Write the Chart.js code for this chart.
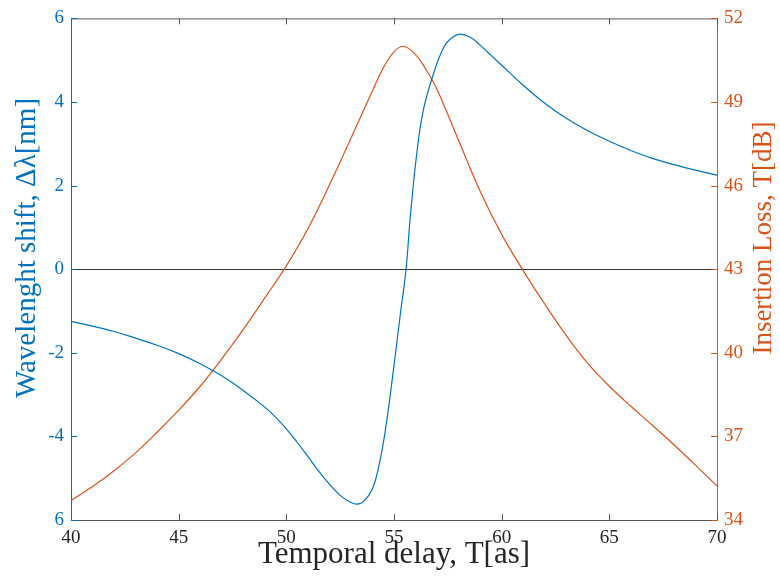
<!DOCTYPE html>
<html>
<head>
<meta charset="utf-8">
<script src="https://cdn.jsdelivr.net/npm/chart.js@4/dist/chart.umd.min.js"></script>
<style>
  html, body { margin: 0; padding: 0; background: #fff; }
  #wrap { width: 780px; height: 584px; }
</style>
</head>
<body>
<div id="wrap"><canvas id="delay-chart" width="780" height="584"></canvas></div>
<script>
// wavelength shift (left axis)
const shiftDelay = [40, 41, 42, 43, 44, 45, 46, 47, 48, 49, 49.5, 50, 50.5, 51, 51.5, 52, 52.5, 53, 53.3, 53.6, 54, 54.3, 54.6, 55, 55.3, 55.56, 55.75, 56.06, 56.36, 56.83, 57.29, 57.6, 58, 58.5, 59, 59.5, 60, 61, 62, 63, 64, 65, 66, 67, 68, 69, 70]
const shiftNm = [-1.25, -1.36, -1.49, -1.65, -1.82, -2.02, -2.26, -2.55, -2.9, -3.3, -3.54, -3.82, -4.14, -4.48, -4.83, -5.14, -5.41, -5.58, -5.62, -5.55, -5.25, -4.7, -3.85, -2.3, -1.05, 0, 1.22, 2.78, 3.8, 4.67, 5.29, 5.5, 5.62, 5.56, 5.36, 5.12, 4.88, 4.4, 3.97, 3.61, 3.31, 3.06, 2.84, 2.65, 2.5, 2.37, 2.25]

// insertion loss (right axis)
const lossDelay = [40, 41, 42, 43, 44, 45, 46, 47, 48, 49, 50, 51, 52, 53, 54, 54.5, 55, 55.45, 56, 56.5, 57, 58, 59, 60, 61, 62, 63, 64, 65, 66, 67, 68, 69, 70]
const lossDb = [34.7, 35.2, 35.77, 36.41, 37.15, 37.94, 38.8, 39.78, 40.84, 41.97, 43.12, 44.45, 46.02, 47.7, 49.4, 50.22, 50.8, 51.0, 50.7, 50.15, 49.45, 47.62, 45.8, 44.25, 42.95, 41.75, 40.62, 39.62, 38.8, 38.08, 37.4, 36.7, 35.97, 35.22]

// tick labels as printed (bottom label of the left axis reads "6")
const delayTicks = [40, 45, 50, 55, 60, 65, 70]
const shiftTickLabels = ['6', '-4', '-2', '0', '2', '4', '6']
const lossTicks = [34, 37, 40, 43, 46, 49, 52]

const xTitle = 'Temporal delay, T[as]'
const leftTitle = 'Wavelenght shift, \u0394\u03bb[nm]'
const rightTitle = 'Insertion Loss, T[dB]'

const blue = '#0072BD'
const orange = '#D95319'
const dark = '#262626'
const serif = "'Liberation Serif', 'DejaVu Serif', serif"

// matlab style: inward ticks, box, axis titles
const matlabAxes = {
  id: 'matlabAxes',
  afterDraw (chart) {
    const { ctx, chartArea: a, scales } = chart
    const len = 6
    ctx.save()
    ctx.lineWidth = 1
    ctx.strokeStyle = '#555'
    ctx.beginPath()
    ctx.moveTo(a.left, a.top + 0.5)
    ctx.lineTo(a.right, a.top + 0.5)
    ctx.stroke()
    ctx.beginPath()
    for (const v of delayTicks) {
      const px = Math.round(scales.x.getPixelForValue(v)) + 0.5
      ctx.moveTo(px, a.bottom); ctx.lineTo(px, a.bottom - len)
      ctx.moveTo(px, a.top); ctx.lineTo(px, a.top + len)
    }
    ctx.stroke()
    ctx.strokeStyle = blue
    ctx.beginPath()
    for (let v = -6; v <= 6; v += 2) {
      const py = Math.round(scales.yShift.getPixelForValue(v)) + 0.5
      ctx.moveTo(a.left, py); ctx.lineTo(a.left + len, py)
    }
    ctx.stroke()
    ctx.strokeStyle = orange
    ctx.beginPath()
    for (const v of lossTicks) {
      const py = Math.round(scales.yLoss.getPixelForValue(v)) + 0.5
      ctx.moveTo(a.right, py); ctx.lineTo(a.right - len, py)
    }
    ctx.stroke()

    ctx.textAlign = 'center'
    ctx.textBaseline = 'middle'
    ctx.font = '31px ' + serif
    ctx.fillStyle = dark
    ctx.fillText(xTitle, (a.left + a.right) / 2, 555)
    ctx.font = '29px ' + serif
    ctx.fillStyle = blue
    ctx.translate(27, 248)
    ctx.rotate(-Math.PI / 2)
    ctx.fillText(leftTitle, 0, 0)
    ctx.rotate(Math.PI / 2)
    ctx.translate(-27, -248)
    ctx.font = '27px ' + serif
    ctx.fillStyle = orange
    ctx.translate(764, 238)
    ctx.rotate(-Math.PI / 2)
    ctx.fillText(rightTitle, 0, 0)
    ctx.restore()
  }
}

const points = (xs, ys) => xs.map((x, i) => ({ x: x, y: ys[i] }))

new Chart(document.getElementById('delay-chart').getContext('2d'), {
  type: 'line',
  data: {
    datasets: [
      {
        label: 'Wavelength shift',
        data: points(shiftDelay, shiftNm),
        yAxisID: 'yShift',
        borderColor: blue,
        borderWidth: 1.2,
        pointRadius: 0,
        tension: 0.4
      },
      {
        label: 'Insertion loss',
        data: points(lossDelay, lossDb),
        yAxisID: 'yLoss',
        borderColor: orange,
        borderWidth: 1.2,
        pointRadius: 0,
        tension: 0.4
      }
    ]
  },
  options: {
    responsive: false,
    animation: false,
    layout: { padding: { top: 10, left: 0, right: 0, bottom: 0 } },
    plugins: { legend: { display: false }, tooltip: { enabled: false } },
    scales: {
      x: {
        type: 'linear',
        min: 40,
        max: 70,
        afterBuildTicks: (scale) => { scale.ticks = delayTicks.map(v => ({ value: v })) },
        afterFit: (scale) => { scale.height = 64 },
        grid: { display: false, drawTicks: false },
        border: { color: '#555', width: 1 },
        ticks: { color: dark, padding: 7, maxRotation: 0, font: { family: serif, size: 19 } }
      },
      yShift: {
        type: 'linear',
        position: 'left',
        min: -6,
        max: 6,
        ticks: {
          stepSize: 2,
          color: blue,
          padding: 7,
          font: { family: serif, size: 19 },
          callback: (v, i) => shiftTickLabels[i]
        },
        afterFit: (scale) => { scale.width = 71 },
        grid: {
          drawTicks: false,
          color: (c) => c.tick && c.tick.value === 0 ? '#333' : 'rgba(0,0,0,0)'
        },
        border: { color: blue, width: 1 }
      },
      yLoss: {
        type: 'linear',
        position: 'right',
        min: 34,
        max: 52,
        afterBuildTicks: (scale) => { scale.ticks = lossTicks.map(v => ({ value: v })) },
        afterFit: (scale) => { scale.width = 63 },
        ticks: { color: orange, padding: 7, font: { family: serif, size: 19 } },
        grid: { display: false, drawTicks: false },
        border: { color: orange, width: 1 }
      }
    }
  },
  plugins: [matlabAxes]
})
</script>
</body>
</html>
